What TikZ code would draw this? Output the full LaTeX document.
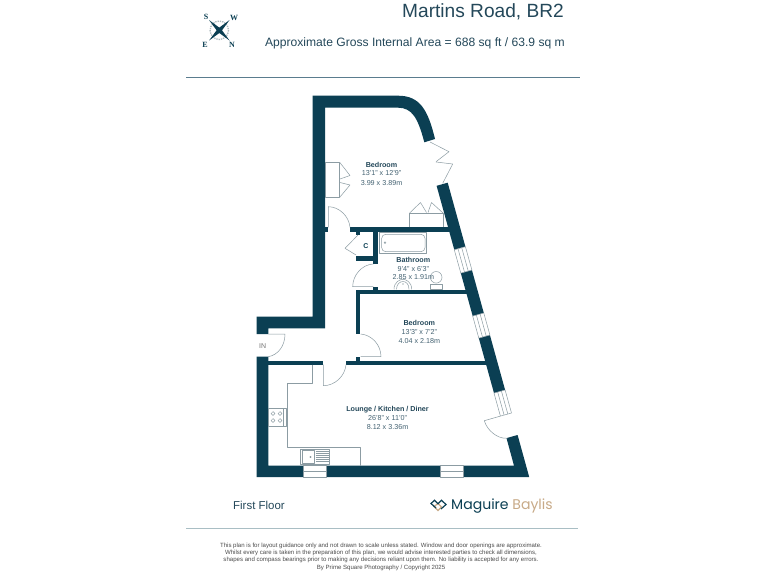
\documentclass[tikz,border=0pt]{standalone}
\usepackage{fontspec}
\setmainfont{Liberation Sans}
\newfontfamily\logofont{Poppins}
\newfontfamily\compfont{Liberation Serif}
\definecolor{wallc}{HTML}{0B3F53}
\definecolor{thinc}{HTML}{8C9CA3}
\definecolor{ruletop}{HTML}{5A7C8E}
\definecolor{rulebot}{HTML}{A9BEC4}
\definecolor{tanc}{HTML}{C8AA88}
\definecolor{txtc}{HTML}{24485A}
\tikzset{
 x=1bp,y=-1bp,
 wallfill/.style={fill=wallc,draw=none},
 thinl/.style={draw=thinc,line width=0.5bp,line join=round},
 winbox/.style={thinl,fill=white},
 roomname/.style={font=\fontsize{7.2}{8}\selectfont\bfseries,text=txtc,inner sep=0,anchor=center},
 roomdim/.style={font=\fontsize{7.2}{8}\selectfont,text=txtc!85,inner sep=0,anchor=center},
 fine/.style={font=\fontsize{6.1}{7}\selectfont,text=black!70,inner sep=0,anchor=center},
 compl/.style={font=\compfont\fontsize{8}{9}\selectfont\bfseries,text=wallc,inner sep=0,anchor=center},
}
\begin{document}
\begin{tikzpicture}
\useasboundingbox (0,0) rectangle (768,576);
\fill[white] (0,0) rectangle (768,576);
% header
\node[inner sep=0,anchor=east,text=txtc,font=\fontsize{19.2}{22}\selectfont] (title) at (564,12) {Martins Road, BR2};
\node[inner sep=0,anchor=east,text=txtc,font=\fontsize{12.15}{14}\selectfont] (area) at (565,43.5) {Approximate Gross Internal Area = 688 sq ft / 63.9 sq m};
\draw[ruletop,line width=0.8bp] (186,77) -- (580,77);
% compass
\draw[thinc!70,line width=1.3bp,densely dotted] (219.3,30.3) circle (9.2);
\fill[wallc] (209,20) -- (219.3,27.6) -- (229.6,20) -- (222,30.3) -- (229.6,40.6) -- (219.3,33) -- (209,40.6) -- (216.6,30.3) -- cycle;
\node[compl] (cs) at (206,17.3) {S};
\node[compl] (cw) at (234,18) {W};
\node[compl] (ce) at (205,45) {E};
\node[compl] (cn) at (232,45) {N};
% outer walls
\fill[wallfill] (312.7,95.7) -- (398,95.7) .. controls (420,95.7) and (428,110) .. (435,139) -- (424.3,142.3) .. controls (418,118) and (412,107.7) .. (398,107.7) -- (325,107.7) -- (325,328.3) -- (268.3,328.3) -- (268.3,334) -- (256.7,334) -- (256.7,316.7) -- (312.7,316.7) -- cycle;
\fill[wallfill] (447.7,182.7) -- (465.4,246.7) -- (454.3,249.8) -- (436.6,185.8) -- cycle;
\fill[wallfill] (471.9,270) -- (483.8,313) -- (472.7,316.1) -- (460.8,273.1) -- cycle;
\fill[wallfill] (489.9,335) -- (505.1,390) -- (494,393.1) -- (478.8,338.1) -- cycle;
\fill[wallfill] (517.6,435) -- (529.2,477) -- (256.7,477) -- (256.7,356.7) -- (268.3,356.7) -- (268.3,465.7) -- (514,465.7) -- (506.5,438.1) -- cycle;
% inner walls
\fill[wallfill] (268,360.7) rectangle (323.3,364.7);
\fill[wallfill] (346,360.7) rectangle (490,364.7);
\fill[wallfill] (356,356.7) rectangle (360.4,361);
\fill[wallfill] (356,290) rectangle (360.4,334);
\fill[wallfill] (356,290) rectangle (470,294);
\fill[wallfill] (373.3,286.7) rectangle (378,290.5);
\fill[wallfill] (373.3,229) rectangle (378,264);
\fill[wallfill] (356,255.5) rectangle (378,260.7);
\fill[wallfill] (356,229) rectangle (360.4,235);
\fill[wallfill] (350,227.3) rectangle (450,231.5);
\fill[wallfill] (325,227.3) rectangle (328.3,231.5);
% side windows
\draw[winbox] (465.4,246.7) -- (471.9,270) -- (460.8,273.1) -- (454.3,249.8) -- cycle;
\draw[thinl] (461.7,247.7) -- (468.2,271) (458,248.8) -- (464.5,272.1);
\draw[winbox] (483.8,313) -- (489.9,335) -- (478.8,338.1) -- (472.7,316.1) -- cycle;
\draw[thinl] (480.1,314) -- (486.2,336) (476.4,315.1) -- (482.5,337.1);
\draw[winbox] (505.1,390) -- (511.5,413) -- (500.4,416.1) -- (494,393.1) -- cycle;
\draw[thinl] (501.4,391) -- (507.8,414) (497.7,392.1) -- (504.1,415.1);
% bottom windows
\draw[winbox] (303.3,465.7) rectangle (326.7,477);
\draw[thinl] (303.3,471.4) -- (326.7,471.4);
\draw[winbox] (440,465.7) rectangle (463.3,477);
\draw[thinl] (440,471.4) -- (463.3,471.4);
% doors
\draw[thinl] (268.3,334) -- (285,334) .. controls (285,346) and (278,355) .. (268.3,356.7);
\draw[thinl] (360.7,356.7) -- (381,356.7) .. controls (381,345) and (372,335) .. (360.7,334);
\draw[thinl] (323.3,364.7) -- (323.3,385.7) .. controls (335,385.7) and (345,376) .. (346,364.7);
\draw[thinl] (500.4,416.1) -- (484.3,420.7) .. controls (487,430) and (497,439) .. (507.3,438.3);
\draw[thinl] (328.3,227.3) -- (328.3,206.7) .. controls (339,206.7) and (349,216) .. (350,227.3);
\draw[thinl] (373.3,286.7) -- (352.7,286.7) .. controls (352.7,275) and (362,264.5) .. (373.3,264);
\draw[thinl] (430,142) -- (449,151.7) -- (436,161.7);
\draw[thinl] (436,162) -- (452.7,164) -- (442.7,183.3);
% wardrobes
\draw[thinl] (325,162.3) rectangle (339.7,197.3);
\draw[thinl] (339.7,162.3) -- (350,175.5) -- (340,179);
\draw[thinl] (340,182.5) -- (350,185) -- (339.7,197.3);
\draw[thinl] (409.3,227.3) -- (409.3,213.3) -- (443.3,213.3) -- (443.3,227.3);
\draw[thinl] (409.3,213.3) -- (420.5,202.5) -- (426.5,212.5);
\draw[thinl] (428,212.5) -- (431.5,202.5) -- (443.3,213.3);
% cupboard door
\draw[thinl] (358,235) -- (345,248.3) -- (356,255);
\node[inner sep=0,text=wallc,font=\fontsize{7}{8}\selectfont\bfseries] (cup) at (366,246) {C};
% bath
\draw[thinl,fill=white] (379,232.7) rectangle (426.7,253.3);
\draw[thinl,rounded corners=4bp] (381.7,234.3) rectangle (425,251.7);
\draw[thinl] (385,242.7) circle (0.9);
% basin
\draw[thinl] (394,289.3) .. controls (394,282) and (400,279.3) .. (403,279.3) .. controls (406,279.3) and (411.7,282) .. (411.7,289.3);
\draw[thinl] (396.5,289.3) .. controls (396.5,284) and (400,281.5) .. (403,281.5) .. controls (406,281.5) and (409,284) .. (409,289.3);
\draw[thinl] (403,284) circle (0.5);
% WC
\draw[thinl] (430,284.3) rectangle (442.7,289.3);
\draw[thinl] (436.2,277.3) circle (5.8);
% kitchen
\draw[thinl] (312.3,364.7) -- (312.3,383.3) -- (287.7,383.3) -- (287.7,447) -- (360,447) -- (360,465.7);
\draw[thinl,fill=white] (268.3,408.3) rectangle (286,426);
\foreach \hx/\hy in {273/413.5,280/413.5,273/420.5,280/420.5}{\draw[thinl] (\hx,\hy) circle (1.9);}
\draw[thinl] (283.5,408.3) -- (283.5,426);
\draw[thinl,fill=white] (300.7,449.3) rectangle (329.3,464.3);
\draw[thinl] (302,450.5) rectangle (314,463);
\draw[thinl] (310.5,457) circle (0.8);
\foreach \ly in {451.5,453.5,455.5,457.5,459.5,461.5}{\draw[thinl] (315.5,\ly) -- (328.5,\ly);}
% labels
\node[roomname] (n1) at (381.5,165) {Bedroom};
\node[roomdim] (d1a) at (381.5,173.5) {13'1'' x 12'9''};
\node[roomdim] (d1b) at (381.5,182.7) {3.99 x 3.89m};
\node[roomname] (n2) at (413.3,260) {Bathroom};
\node[roomdim] (d2a) at (413.3,268.7) {9'4'' x 6'3''};
\node[roomdim] (d2b) at (413.3,277.5) {2.85 x 1.91m};
\node[roomname] (n3) at (419.3,323) {Bedroom};
\node[roomdim] (d3a) at (419.3,331.7) {13'3'' x 7'2''};
\node[roomdim] (d3b) at (419.3,340.6) {4.04 x 2.18m};
\node[roomname] (n4) at (387.5,409.5) {Lounge / Kitchen / Diner};
\node[roomdim] (d4a) at (387.5,418.3) {26'8'' x 11'0''};
\node[roomdim] (d4b) at (387.5,427) {8.12 x 3.36m};
\node[inner sep=0,text=black!55,font=\fontsize{7}{8}\selectfont] (inlab) at (262.7,346) {IN};
% footer
\node[inner sep=0,anchor=west,text=txtc,font=\fontsize{11.5}{13}\selectfont] (floor) at (233,505) {First Floor};
\draw[rulebot,line width=0.8bp] (186,528) -- (578,528);
\begin{scope}[line width=1.2bp,line join=miter]
\draw[tanc] (434,506.5) -- (438,510.5) -- (441.5,507) -- (438,503.5) -- cycle;
\draw[wallc] (436,508) -- (431,503.5) -- (434.5,500.3) -- (438,503.7) -- (441.5,500.3) -- (446,504.5) -- (441,509);
\end{scope}
\node[inner sep=0,anchor=west,font=\logofont\fontsize{14.1}{18}\selectfont] (logo) at (451,506) {\textcolor{wallc}{Maguire} \textcolor{tanc}{Baylis}};
\node[fine] (f1) at (381,545.7) {This plan is for layout guidance only and not drawn to scale unless stated. Window and door openings are approximate.};
\node[fine] (f2) at (381,553) {Whilst every care is taken in the preparation of this plan, we would advise interested parties to check all dimensions,};
\node[fine] (f3) at (381,560.3) {shapes and compass bearings prior to making any decisions reliant upon them. No liability is accepted for any errors.};
\node[fine] (f4) at (381,567.7) {By Prime Square Photography / Copyright 2025};
\end{tikzpicture}
\end{document}
